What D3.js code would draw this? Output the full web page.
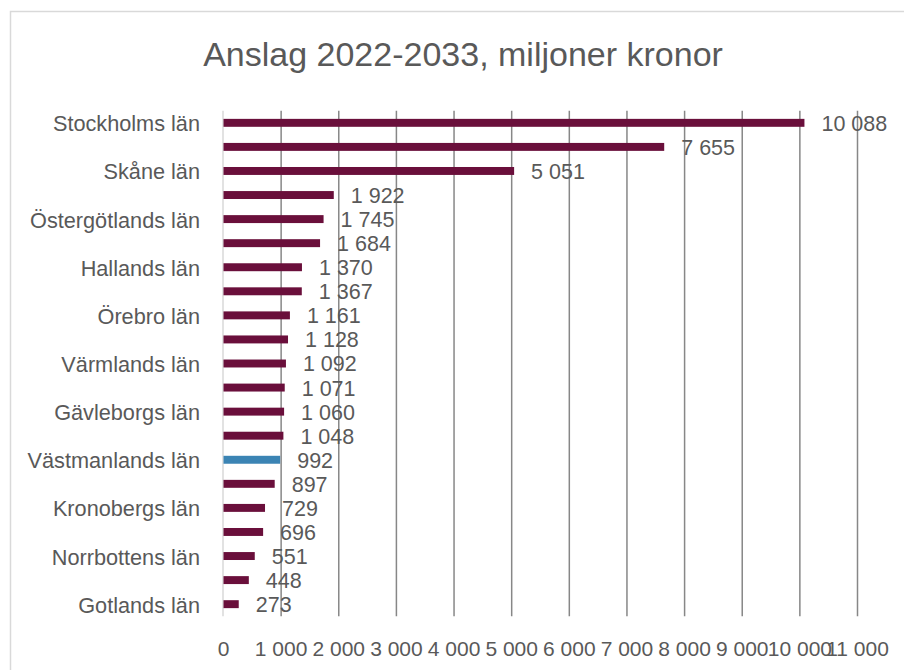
<!DOCTYPE html>
<html>
<head>
<meta charset="utf-8">
<script src="https://cdn.jsdelivr.net/npm/d3@7"></script>
<style>
  body { margin: 0; background: #fff; }
  svg { display: block; font-family: "Liberation Sans", Arial, sans-serif; }
</style>
</head>
<body>
<svg id="bar-chart"></svg>
<script>
/* data */
var counties = ["Stockholms län", "Västra Götalands län", "Skåne län", "Uppsala län",
    "Östergötlands län", "Jönköpings län", "Hallands län", "Västerbottens län",
    "Örebro län", "Dalarnas län", "Värmlands län", "Södermanlands län",
    "Gävleborgs län", "Västernorrlands län", "Västmanlands län", "Kalmar län",
    "Kronobergs län", "Blekinge län", "Norrbottens län", "Jämtlands län", "Gotlands län"];
var anslag = [10088, 7655, 5051, 1922, 1745, 1684, 1370, 1367, 1161, 1128, 1092,
    1071, 1060, 1048, 992, 897, 729, 696, 551, 448, 273];
var highlighted = ["Västmanlands län"];
var xTicks = [0, 1000, 2000, 3000, 4000, 5000, 6000, 7000, 8000, 9000, 10000, 11000];
var title = "Anslag 2022-2033, miljoner kronor";

/* settings */
var width = 905,
    height = 670,
    plot = { left: 223, right: 857, top: 110.8, bottom: 616.2 },
    barColor = "#6a0f3b",
    highlightColor = "#3b84b4",
    textColor = "#595959",
    gridColor = "#878787";

var swe = d3.formatLocale({ decimal: ",", thousands: " ", grouping: [3], currency: ["", " kr"] });
var fmt = swe.format(",d");

var data = counties.map(function(c, i) { return { name: c, value: anslag[i] }; });

var svg = d3.select("#bar-chart")
    .attr("width", width)
    .attr("height", height);

/* chart border */
svg.append("path")
    .attr("d", "M10.5," + height + "V11.5H904")
    .attr("fill", "none")
    .attr("stroke", "#d9d9d9")
    .attr("stroke-width", 1.5);

/* title */
svg.append("text")
    .attr("x", 463)
    .attr("y", 66)
    .attr("text-anchor", "middle")
    .attr("fill", textColor)
    .style("font-size", "34px")
    .text(title);

/* scales */
var xScale = d3.scaleLinear()
    .domain([0, 11000])
    .range([plot.left, plot.right]);

var yScale = d3.scaleBand()
    .domain(counties)
    .range([plot.top, plot.bottom])
    .paddingInner(0.67)
    .paddingOuter(0.335);

/* gridlines */
var grid = svg.append("g")
    .attr("class", "grid")
    .attr("transform", "translate(0," + plot.bottom + ")")
    .call(d3.axisBottom(xScale).tickValues(xTicks).tickSize(-(plot.bottom - plot.top)).tickFormat(""));
grid.select(".domain").remove();
grid.selectAll(".tick line")
    .attr("stroke", function(d) { return d === 0 ? "#d9d9d9" : gridColor; })
    .attr("stroke-width", 1.5)
    .attr("transform", function(d) { return d === 0 ? "translate(-0.5,0)" : null; });

/* bars */
svg.append("g")
    .selectAll("rect")
    .data(data)
    .enter()
    .append("rect")
    .attr("x", xScale(0) + 0.5)
    .attr("y", function(d) { return yScale(d.name); })
    .attr("width", function(d) { return xScale(d.value) - xScale(0) - 0.5; })
    .attr("height", yScale.bandwidth())
    .attr("fill", function(d) { return highlighted.indexOf(d.name) >= 0 ? highlightColor : barColor; });

/* value labels */
svg.append("g")
    .selectAll("text")
    .data(data)
    .enter()
    .append("text")
    .attr("x", function(d) { return xScale(d.value) + 17; })
    .attr("y", function(d) { return yScale(d.name) + yScale.bandwidth() / 2; })
    .attr("dy", "0.37em")
    .attr("fill", textColor)
    .style("font-size", "21.5px")
    .text(function(d) { return fmt(d.value); });

/* y-axis, every other label */
var yAxisG = svg.append("g")
    .attr("transform", "translate(" + plot.left + ",0)")
    .call(d3.axisLeft(yScale).tickSize(0).tickPadding(23)
        .tickFormat(function(d, i) { return i % 2 === 0 ? d : ""; }));
yAxisG.select(".domain").remove();
yAxisG.attr("font-family", null).attr("font-size", null);
yAxisG.selectAll("text")
    .attr("dy", "0.39em")
    .attr("fill", textColor)
    .style("font-size", "21.7px");

/* x-axis labels */
var xAxisG = svg.append("g")
    .attr("transform", "translate(0," + plot.bottom + ")")
    .call(d3.axisBottom(xScale).tickValues(xTicks).tickSize(0).tickPadding(25).tickFormat(fmt));
xAxisG.select(".domain").remove();
xAxisG.attr("font-family", null).attr("font-size", null);
xAxisG.selectAll("text")
    .attr("fill", textColor)
    .style("font-size", "21px");
</script>
</body>
</html>
